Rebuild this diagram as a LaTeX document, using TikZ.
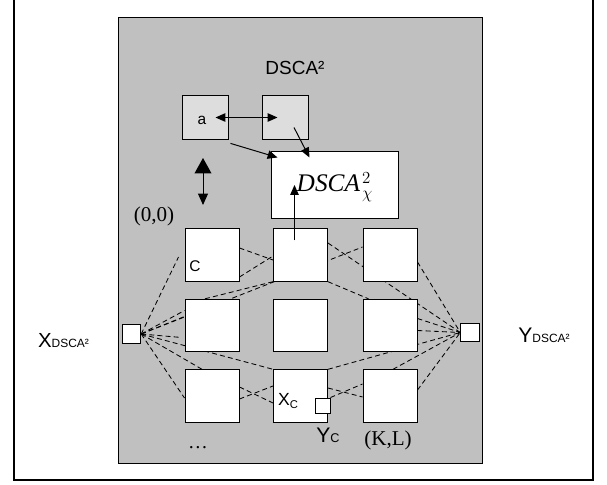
\documentclass[tikz,border=0pt]{standalone}
\usepackage{fontspec}
\setmainfont{Liberation Serif}
\setsansfont{Liberation Sans}
\usetikzlibrary{arrows.meta, calc, backgrounds}

\definecolor{panelgray}{HTML}{C0C0C0}
\definecolor{cellgray}{HTML}{DDDDDD}

\begin{document}
\begin{tikzpicture}[x=0.025cm, y=-0.025cm,
  cell/.style={rectangle, draw, fill=white, line width=0.7pt, minimum width=1.35cm, minimum height=1.31cm, inner sep=0pt},
  topcell/.style={rectangle, draw, fill=cellgray, line width=0.7pt, minimum width=1.15cm, minimum height=1.12cm, inner sep=0pt},
  port/.style={rectangle, draw, fill=white, line width=0.7pt, minimum size=0.46cm, inner sep=0pt},
  lbl/.style={anchor=base, inner sep=0pt},
  link/.style={line width=0.6pt, dash pattern=on 3.5pt off 2.3pt},
  arrow/.style={-{Triangle[length=7pt, width=6pt]}, line width=0.7pt},
]
\useasboundingbox (0,0) rectangle (607,485);

% outer frame and grey panel
\draw[line width=0.9pt] (14,-10) rectangle (593,480);
\begin{scope}[on background layer]
  \fill[panelgray] (118,17.5) rectangle (482,463);
  \draw[line width=0.6pt] (118,17.5) rectangle (482,463);
\end{scope}

\node[lbl, font=\sffamily\fontsize{13.5}{13.5}\selectfont] (title) at (295,75) {DSCA²};

% top cells
\node[topcell] (a) at (205,117.5) {};
\node[topcell] (b) at (285,117.5) {};
\node[lbl, font=\sffamily\fontsize{11}{11}\selectfont] (alabel) at (202,125) {a};
\node[rectangle, draw, fill=white, line width=0.7pt, minimum width=3.15cm, minimum height=1.65cm] (chi) at (335,185) {};
\node[lbl, font=\fontsize{18}{18}\selectfont] (chilabel) at (335,192) {\textit{DSCA}\kern1.5pt$^{2}_{\chi}$};

% grid of cells
\node[cell] (g00) at (212,255) {};
\node[cell] (g10) at (300.5,255) {};
\node[cell] (g20) at (390,255) {};
\node[cell] (g01) at (212,325.5) {};
\node[cell] (g11) at (300.5,325.5) {};
\node[cell] (g21) at (390,325.5) {};
\node[cell] (g02) at (212,396) {};
\node[cell] (g12) at (300.5,396) {};
\node[cell] (g22) at (390,396) {};

\node[port] (xin) at (131.5,334) {};
\node[port] (yout) at (470,332.5) {};
\node[port, minimum size=0.375cm] (yc) at (322.5,405.5) {};

% labels
\node[lbl, font=\fontsize{15}{15}\selectfont] (origin) at (154,222) {(0,0)};
\node[lbl, font=\fontsize{15}{15}\selectfont] (corner) at (388,446) {(K,L)};
\node[lbl, font=\fontsize{14}{14}\selectfont] (dots) at (198,449) {\dots};
\node[lbl, font=\sffamily\fontsize{11}{11}\selectfont] (clabel) at (195,271.5) {C};
\node[lbl, font=\sffamily] (xclabel) at (288,406) {\fontsize{12.5}{12.5}\selectfont X\fontsize{8}{8}\selectfont\raisebox{-1.5pt}{C}};
\node[lbl, font=\sffamily] (yclabel) at (328,443) {\fontsize{15}{15}\selectfont Y\fontsize{9}{9}\selectfont C};
\node[lbl, font=\sffamily] (xlabel) at (63.5,348) {\fontsize{14.5}{14.5}\selectfont X\fontsize{8.5}{8.5}\selectfont DSCA²};
\node[lbl, font=\sffamily] (ylabel) at (544,343) {\fontsize{15}{15}\selectfont Y\fontsize{8.5}{8.5}\selectfont DSCA²};

% arrows
\draw[{Triangle[length=7pt, width=6pt]}-{Triangle[length=7pt, width=6pt]}, line width=0.7pt] ($(a.east)+(-13,0)$) -- ($(b.west)+(16,0)$);
\draw[arrow] ($(a.south east)+(2,3)$) -- ($(chi.north west)+(6,6)$);
\draw[arrow] ($(b.center)+(9,10)$) -- ($(chi.north west)+(38,6)$);
\coordinate (up) at (203,158);
\coordinate (down) at (203,205);
\draw[{Triangle[length=11pt, width=12pt]}-{Triangle[length=8pt, width=7pt]}, line width=0.7pt] (up) -- (down);
\coordinate (tail) at ($(g10.north)+(-6,12)$);
\draw[arrow] (tail) -- (tail |- chi.center);

% dashed links (behind the cells)
\begin{scope}[on background layer]
  \draw[link] (xin.east) -- ($(g00.west)+(-6,2)$);
  \draw[link] (xin.east) -- ($(g01.west)+(0,-15)$);
  \draw[link] (xin.east) -- ($(g01.west)+(0,-9)$);
  \draw[link] (xin.east) -- ($(g01.west)+(-3,12)$);
  \draw[link] (xin.east) -- (g12.north west);
  \draw[link] (xin.east) -- ($(g02.north)+(-10,0)$);
  \draw[link] (xin.east) -- ($(g02.west)+(0,2)$);
  \draw[link] (xin.east) -- ($(g20.west)+(0,-8)$);
  \draw[link] ($(g01.north)+(-7,0)$) -- (g10.south west);
  \draw[link] ($(g00.east)+(0,-7)$) -- ($(g10.west)+(0,5)$);
  \draw[link] ($(g00.east)+(0,22)$) -- ($(g10.west)+(0,1)$);
  \draw[link] ($(g02.east)+(0,-9)$) -- ($(g12.west)+(0,7)$);
  \draw[link] ($(g02.east)+(0,3)$) -- ($(g12.west)+(0,-10)$);
  \draw[link] ($(g20.east)+(0,7)$) -- (yout.west);
  \draw[link] ($(g10.east)+(0,-12)$) -- (yout.west);
  \draw[link] ($(g21.east)+(0,-7)$) -- (yout.west);
  \draw[link] ($(g21.east)+(0,5)$) -- (yout.west);
  \draw[link] (g12.north east) -- (yout.west);
  \draw[link] ($(g22.north)+(3,0)$) -- (yout.west);
  \draw[link] ($(g22.east)+(0,-6)$) -- (yout.west);
  \draw[link] (g10.south east) -- ($(g21.north west)+(6,0)$);
  \draw[link] ($(g12.east)+(0,-8)$) -- ($(g22.west)+(0,1)$);
  \draw[link] (yc.north east) -- ($(g22.west)+(0,-12)$);
\end{scope}
\end{tikzpicture}
\end{document}
